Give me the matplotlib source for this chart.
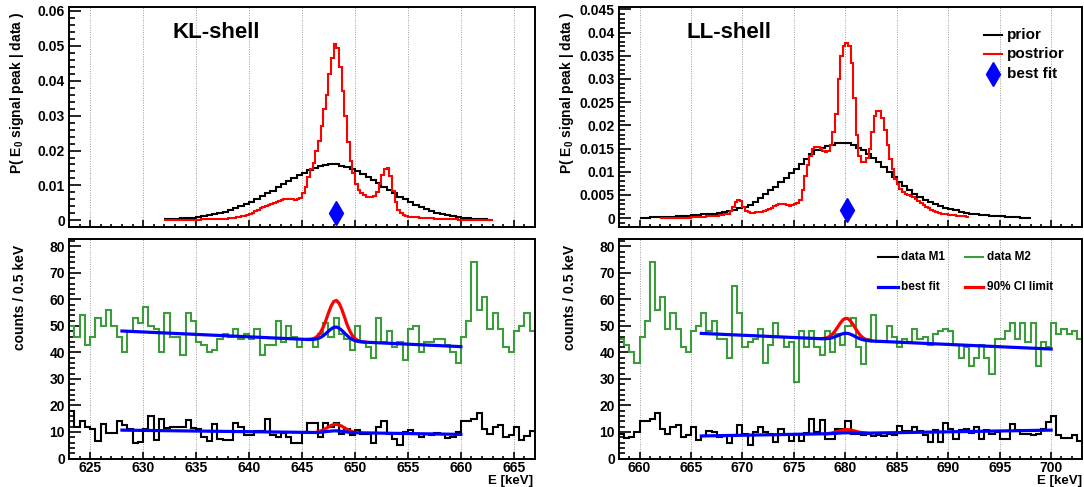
import numpy as np
import matplotlib
matplotlib.use('Agg')
import matplotlib.pyplot as plt
from matplotlib.ticker import MultipleLocator, FuncFormatter
from matplotlib.lines import Line2D

plt.rcParams['font.family'] = ['Liberation Sans', 'DejaVu Sans']
plt.rcParams['font.weight'] = 'bold'
plt.rcParams['mathtext.fontset'] = 'custom'
plt.rcParams['mathtext.rm'] = 'Liberation Sans:bold'
plt.rcParams['mathtext.it'] = 'Liberation Sans:bold'
plt.rcParams['mathtext.bf'] = 'Liberation Sans:bold'
plt.rcParams['mathtext.default'] = 'rm'

# ---------------- data ----------------
# measured spectra, 0.5 keV bins starting at 623.0 keV
data_start = 623.0
data_binw = 0.5
data_m1 = [18, 12, 14, 12, 11, 6.5, 13, 9.5, 9.5, 14,
           12.5, 11, 6, 6.3, 11, 16, 7, 15, 11.5, 12,
           12, 12, 14.5, 11.5, 11, 8, 6.7, 13, 7.5, 7,
           7, 13.5, 12, 9, 9, 10.5, 10.5, 15, 9, 8,
           9.7, 8, 6, 6, 10, 13.5, 13.5, 8, 13.5, 12,
           13.5, 9.4, 11.3, 8.8, 10.7, 9.4, 9.4, 5.7, 12, 14.2,
           9.4, 7.2, 5, 10, 10.7, 9.4, 8.2, 9.4, 8.8, 9.7,
           9.4, 7.6, 8.2, 10, 14, 14, 15, 17, 11, 9.4,
           12, 12.6, 8, 8.8, 12, 7, 8.6, 10.5, 10, 8.2,
           8.4, 5.7, 8.4, 12.6, 9.4, 5, 10, 12, 10, 9.4,
           6.3, 11.3, 9.2, 6.7, 9.2, 6.7, 9.7, 15, 10, 14.7,
           7.2, 7.2, 11, 11.3, 14.2, 9.4, 9.2, 8.8, 9.4, 8.4,
           8.8, 8.4, 9.4, 8.8, 12.2, 10.4, 10.4, 11.7, 10.4, 8.8,
           6.3, 10.7, 6.3, 13.5, 11, 7.2, 10.7, 11, 9.7, 12,
           7.2, 10.7, 9.4, 10, 7.2, 7.2, 13.2, 10.7, 9.4, 9.2,
           8.8, 9.4, 11, 13.9, 16, 8.8, 7.6, 7.9, 8.8, 6.7]
data_m2 = [50, 46, 54, 43, 46, 53, 50, 56, 50, 46,
           40, 48, 53, 51, 57, 50, 49, 40, 55, 46,
           46, 39, 55, 52, 44, 43, 40, 41, 45, 47,
           46, 49, 45, 47, 45, 49, 39, 43, 43, 52,
           44, 50, 46, 42, 45, 45, 42, 47, 51, 46,
           53, 47, 45, 41, 50, 44, 42, 38, 53, 44,
           48, 42, 44, 37, 49, 50, 40, 44, 44, 45,
           45, 43, 40, 36, 46, 52, 74, 56, 61, 49,
           55, 49, 42, 40, 48, 50, 55, 48, 52, 45,
           45, 38, 65, 55, 42, 44, 45, 49, 36, 43,
           51, 46, 42, 44, 29, 48, 42, 48, 42, 39,
           48, 40, 47, 43, 50, 53, 42, 35.5, 45, 54,
           44, 44, 50, 46, 42, 45, 44, 49, 45, 46,
           43, 47, 48, 49, 48, 43, 38, 42, 35, 38,
           43, 38, 32, 45, 45, 48, 51, 45, 51, 44,
           51, 35, 44, 42, 51, 47, 49, 47, 48, 45]

# KL-shell: prior (0.5 keV bins from 632) and posterior (0.25 keV bins from 632)
kl_prior_start = 632.0
kl_prior_binw = 0.5
kl_prior = [0.0003, 0.0004, 0.0005, 0.0006, 0.0007, 0.0008, 0.0010, 0.0012, 0.0014, 0.0017,
            0.0020, 0.0024, 0.0029, 0.0035, 0.0041, 0.0048, 0.0054, 0.0061, 0.0069, 0.0077,
            0.0085, 0.0095, 0.0104, 0.0113, 0.0122, 0.0130, 0.0137, 0.0144, 0.0150, 0.0155,
            0.0158, 0.0160, 0.0160, 0.0157, 0.0153, 0.0148, 0.0142, 0.0134, 0.0125, 0.0116,
            0.0106, 0.0096, 0.0086, 0.0077, 0.0068, 0.0060, 0.0052, 0.0045, 0.0038, 0.0032,
            0.0027, 0.0022, 0.0018, 0.0015, 0.0012, 0.0010, 0.0008, 0.0006, 0.0005, 0.0004,
            0.0003, 0.0002]
kl_post_start = 632.0
kl_post_binw = 0.25
kl_post = [0.0001, 0.0001, 0.0001, 0.0001, 0.0001, 0.0001, 0.0002, 0.0002,
           0.0002, 0.0002, 0.0002, 0.0002, 0.0002, 0.0002, 0.0003, 0.0003,
           0.0003, 0.0003, 0.0003, 0.0003, 0.0004, 0.0004, 0.0005, 0.0005,
           0.0006, 0.0007, 0.0008, 0.0009, 0.0010, 0.0012, 0.0013, 0.0015,
           0.0017, 0.0021, 0.0026, 0.0031, 0.0034, 0.0037, 0.0040, 0.0043,
           0.0046, 0.0050, 0.0053, 0.0056, 0.0059, 0.0061, 0.0062, 0.0062,
           0.0061, 0.0059, 0.0060, 0.0065, 0.0077, 0.0095, 0.0125, 0.0148,
           0.0165, 0.0198, 0.0228, 0.0270, 0.0320, 0.0360, 0.0420, 0.0465,
           0.0505, 0.0495, 0.0440, 0.0370, 0.0300, 0.0225, 0.0170, 0.0135,
           0.0105, 0.0088, 0.0078, 0.0072, 0.0068, 0.0066, 0.0066, 0.0070,
           0.0082, 0.0105, 0.0130, 0.0148, 0.0150, 0.0128, 0.0085, 0.0052,
           0.0030, 0.0020, 0.0015, 0.0012, 0.0011, 0.0010, 0.0009, 0.0009,
           0.0008, 0.0008, 0.0007, 0.0007, 0.0006, 0.0006, 0.0005, 0.0005,
           0.0004, 0.0004, 0.0004, 0.0003, 0.0003, 0.0003, 0.0003, 0.0002,
           0.0002, 0.0002, 0.0002, 0.0002, 0.0001, 0.0001, 0.0001, 0.0001,
           0.0001, 0.0001, 0.0001, 0.0001]
kl_best_E = 648.2
kl_best_y = 0.0022

# LL-shell: prior (0.5 keV bins from 660) and posterior (0.25 keV bins from 662)
ll_prior_start = 660.0
ll_prior_binw = 0.5
ll_prior = [0.0001, 0.0001, 0.0002, 0.0002, 0.0002, 0.0003, 0.0003, 0.0004, 0.0004, 0.0005,
            0.0006, 0.0007, 0.0008, 0.0009, 0.0010, 0.0012, 0.0013, 0.0015, 0.0018, 0.0021,
            0.0025, 0.0029, 0.0035, 0.0044, 0.0052, 0.0060, 0.0068, 0.0077, 0.0087, 0.0097,
            0.0107, 0.0117, 0.0128, 0.0139, 0.0147, 0.0152, 0.0155, 0.0158, 0.0161, 0.0163,
            0.0161, 0.0157, 0.0152, 0.0146, 0.0139, 0.0130, 0.0120, 0.0110, 0.0099, 0.0089,
            0.0079, 0.0069, 0.0060, 0.0052, 0.0045, 0.0039, 0.0034, 0.0030, 0.0026, 0.0023,
            0.0020, 0.0017, 0.0014, 0.0012, 0.0010, 0.0009, 0.0007, 0.0006, 0.0005, 0.0004,
            0.0004, 0.0003, 0.0002, 0.0002, 0.0001, 0.0001]
ll_post_start = 662.0
ll_post_binw = 0.25
ll_post = [0.0001, 0.0001, 0.0001, 0.0001, 0.0001, 0.0001, 0.0001, 0.0001,
           0.0001, 0.0001, 0.0001, 0.0001, 0.0002, 0.0002, 0.0002, 0.0003,
           0.0003, 0.0003, 0.0004, 0.0004, 0.0004, 0.0005, 0.0005, 0.0006,
           0.0007, 0.0008, 0.0010, 0.0016, 0.0025, 0.0035, 0.0040, 0.0036,
           0.0024, 0.0016, 0.0013, 0.0012, 0.0012, 0.0013, 0.0013, 0.0014,
           0.0016, 0.0018, 0.0020, 0.0023, 0.0026, 0.0029, 0.0031, 0.0031,
           0.0030, 0.0028, 0.0027, 0.0028, 0.0030, 0.0033, 0.0040, 0.0060,
           0.0090, 0.0115, 0.0135, 0.0148, 0.0153, 0.0153, 0.0148, 0.0144,
           0.0143, 0.0145, 0.0158, 0.0185, 0.0225, 0.0300, 0.0350, 0.0372,
           0.0378, 0.0372, 0.0335, 0.0260, 0.0180, 0.0135, 0.0122, 0.0122,
           0.0130, 0.0150, 0.0185, 0.0220, 0.0232, 0.0230, 0.0215, 0.0190,
           0.0158, 0.0128, 0.0105, 0.0085, 0.0073, 0.0062, 0.0056, 0.0052,
           0.0050, 0.0048, 0.0045, 0.0042, 0.0038, 0.0033, 0.0028, 0.0024,
           0.0021, 0.0018, 0.0015, 0.0013, 0.0011, 0.0010, 0.0009, 0.0008,
           0.0007, 0.0006, 0.0006, 0.0005, 0.0005, 0.0004, 0.0004, 0.0003]
ll_best_E = 680.15
ll_best_y = 0.0017

# fitted curves (energy, counts)
kl_fit_x = [628, 645.5, 645.75, 646.0, 646.25, 646.5, 646.75, 647.0, 647.25, 647.5, 647.75,
            648.0, 648.25, 648.5, 648.75, 649.0, 649.25, 649.5, 649.75, 650.0, 650.25,
            650.5, 650.75, 651.0, 660]
kl_m2_best = [48.1, 44.90, 44.88, 44.91, 45.01, 45.25, 45.66, 46.29, 47.12, 48.06, 48.86,
              49.46, 49.60, 49.18, 48.37, 47.40, 46.42, 45.53, 44.88, 44.47, 44.20,
              44.04, 43.97, 43.88, 42.2]
kl_lim_x = [645.5, 645.75, 646.0, 646.25, 646.5, 646.75, 647.0, 647.25, 647.5, 647.75,
            648.0, 648.25, 648.5, 648.75, 649.0, 649.25, 649.5, 649.75, 650.0, 650.25,
            650.5, 650.75, 651.0]
kl_m2_limit = [44.93, 45.00, 45.14, 45.52, 46.31, 47.59, 49.57, 52.07, 54.94, 57.48,
               59.25, 59.64, 58.59, 56.38, 53.53, 50.60, 48.22, 46.40, 45.27, 44.60,
               44.20, 44.00, 43.90]
kl_m1_fit_x = [628, 646.5, 647.0, 647.5, 648.0, 648.25, 648.5, 649.0, 649.5, 650.0, 660]
kl_m1_best = [10.7, 9.80, 10.03, 10.25, 10.43, 10.44, 10.37, 10.12, 9.86, 9.72, 9.1]
kl_m1_lim_x = [646.5, 646.75, 647.0, 647.25, 647.5, 647.75, 648.0, 648.25, 648.5, 648.75,
               649.0, 649.25, 649.5, 649.75, 650.0]
kl_m1_limit = [10.11, 10.38, 10.79, 11.32, 11.91, 12.45, 12.81, 12.89, 12.67, 12.21,
               11.61, 11.01, 10.50, 10.13, 9.89]

ll_fit_x = [666, 677.5, 677.75, 678.0, 678.25, 678.5, 678.75, 679.0, 679.25, 679.5, 679.75,
            680.0, 680.25, 680.5, 680.75, 681.0, 681.25, 681.5, 681.75, 682.0, 682.25,
            682.5, 682.75, 700]
ll_m2_best = [47.2, 45.21, 45.19, 45.19, 45.24, 45.36, 45.58, 45.91, 46.31, 46.74, 47.08,
              47.24, 47.18, 46.88, 46.43, 45.92, 45.44, 45.04, 44.76, 44.57, 44.44,
              44.36, 44.30, 41.3]
ll_lim_x = [677.75, 678.0, 678.25, 678.5, 678.75, 679.0, 679.25, 679.5, 679.75, 680.0,
            680.25, 680.5, 680.75, 681.0, 681.25, 681.5, 681.75, 682.0, 682.25, 682.5]
ll_m2_limit = [45.27, 45.37, 45.64, 46.13, 46.96, 48.13, 49.56, 51.04, 52.26, 52.89,
               52.78, 51.90, 50.53, 48.94, 47.47, 46.27, 45.44, 44.91, 44.59, 44.42]
ll_m1_fit_x = [666, 678.5, 679.0, 679.5, 680.0, 680.5, 681.0, 681.5, 682.0, 700]
ll_m1_best = [8.5, 9.35, 9.47, 9.61, 9.71, 9.70, 9.64, 9.57, 9.56, 10.7]
ll_m1_lim_x = [678.0, 678.25, 678.5, 678.75, 679.0, 679.25, 679.5, 679.75, 680.0, 680.25,
               680.5, 680.75, 681.0, 681.25, 681.5, 681.75, 682.0]
ll_m1_limit = [9.33, 9.39, 9.51, 9.69, 9.93, 10.21, 10.51, 10.75, 10.90, 10.89,
               10.76, 10.54, 10.28, 10.02, 9.83, 9.70, 9.63]

# ---------------- styling ----------------
W, H = 1084, 487
RED = '#ff0000'
BLUE = '#0000ff'
GREEN = '#3c9c3c'
GRID = '#9a9a9a'
HLW = 1.5


def edges(start, binw, vals):
    return start + binw * np.arange(len(vals) + 1)


def fx(x):
    return x / W


def fy(y):
    return 1 - y / H


fig = plt.figure(figsize=(W / 100, H / 100), dpi=100)


def make_ax(x0, x1, y0, y1):
    return fig.add_axes([fx(x0), fy(y1), fx(x1 - x0), (y1 - y0) / H])


def style(ax, xlim, ylim, ymaj, ymin_, show_xlabels):
    ax.set_xlim(*xlim)
    ax.set_ylim(*ylim)
    ax.xaxis.set_major_locator(MultipleLocator(5))
    ax.xaxis.set_minor_locator(MultipleLocator(1))
    ax.yaxis.set_major_locator(MultipleLocator(ymaj))
    ax.yaxis.set_minor_locator(MultipleLocator(ymin_))
    ax.yaxis.set_major_formatter(FuncFormatter(lambda v, p: '%g' % round(v, 6)))
    ax.tick_params(axis='both', which='both', direction='in', top=False, right=False)
    ax.tick_params(axis='y', which='major', length=8.5, width=1.2, labelsize=10, pad=3)
    ax.tick_params(axis='y', which='minor', length=4.3, width=1.2)
    ax.tick_params(axis='x', which='major', length=5, width=1.2, labelsize=10, pad=2)
    ax.tick_params(axis='x', which='minor', length=2.5, width=1.2)
    ax.tick_params(labelbottom=show_xlabels)
    ax.grid(axis='x', which='major', color=GRID, linestyle=(0, (1, 1.5)), linewidth=0.7)
    ax.set_axisbelow(True)
    for s in ax.spines.values():
        s.set_linewidth(1.4)
    for lab in ax.get_xticklabels() + ax.get_yticklabels():
        lab.set_fontweight('bold')


XL_L, XR_L = 69, 535
XL_R, XR_R = 619, 1082
YT_T, YB_T = 7, 227
YT_B, YB_B = 238.5, 458.5

ax_tl = make_ax(XL_L, XR_L, YT_T, YB_T)
ax_bl = make_ax(XL_L, XR_L, YT_B, YB_B)
ax_tr = make_ax(XL_R, XR_R, YT_T, YB_T)
ax_br = make_ax(XL_R, XR_R, YT_B, YB_B)

# ---- top-left: KL posterior ----
style(ax_tl, (623, 667), (-0.0019, 0.0611), 0.01, 0.002, False)
ax_tl.stairs(kl_prior, edges(kl_prior_start, kl_prior_binw, kl_prior), baseline=None,
             color='black', lw=HLW)
ax_tl.stairs(kl_post, edges(kl_post_start, kl_post_binw, kl_post), baseline=None,
             color=RED, lw=HLW)
ax_tl.plot([kl_best_E], [kl_best_y], marker='d', color=BLUE, markersize=12.5, ls='none')
ax_tl.text(fx(172), fy(32), 'KL-shell', transform=fig.transFigure, fontsize=16,
           fontweight='bold', ha='left', va='center')

# ---- top-right: LL posterior ----
style(ax_tr, (658, 703), (-0.0019, 0.0455), 0.005, 0.001, False)
ax_tr.stairs(ll_prior, edges(ll_prior_start, ll_prior_binw, ll_prior), baseline=None,
             color='black', lw=HLW)
ax_tr.stairs(ll_post, edges(ll_post_start, ll_post_binw, ll_post), baseline=None,
             color=RED, lw=HLW)
ax_tr.plot([ll_best_E], [ll_best_y], marker='d', color=BLUE, markersize=12.5, ls='none')
ax_tr.text(fx(686), fy(32), 'LL-shell', transform=fig.transFigure, fontsize=16,
           fontweight='bold', ha='left', va='center')

# ---- bottom panels: spectra ----
for ax, xlim in ((ax_bl, (623, 667)), (ax_br, (658, 703))):
    style(ax, xlim, (0, 83), 10, 2, True)
    ax.stairs(data_m2, edges(data_start, data_binw, data_m2), baseline=None,
              color=GREEN, lw=HLW)
    ax.stairs(data_m1, edges(data_start, data_binw, data_m1), baseline=None,
              color='black', lw=HLW)

ax_bl.plot(kl_fit_x, kl_m2_best, color=BLUE, lw=2.3, zorder=4)
ax_bl.plot(kl_lim_x, kl_m2_limit, color=RED, lw=2.3, zorder=3)
ax_bl.plot(kl_m1_fit_x, kl_m1_best, color=BLUE, lw=2.3, zorder=4)
ax_bl.plot(kl_m1_lim_x, kl_m1_limit, color=RED, lw=2.3, zorder=3)

ax_br.plot(ll_fit_x, ll_m2_best, color=BLUE, lw=2.3, zorder=4)
ax_br.plot(ll_lim_x, ll_m2_limit, color=RED, lw=2.3, zorder=3)
ax_br.plot(ll_m1_fit_x, ll_m1_best, color=BLUE, lw=2.3, zorder=4)
ax_br.plot(ll_m1_lim_x, ll_m1_limit, color=RED, lw=2.3, zorder=3)

# ---- axis titles ----
ylab_top = 'P( E$_0$ signal peak | data )'
ylab_bot = 'counts / 0.5 keV'
for xc in (17, 567):
    fig.text(fx(xc), fy(12), ylab_top, rotation=90, ha='center', va='top',
             fontsize=10, fontweight='bold')
for xc in (20, 570):
    fig.text(fx(xc), fy(245), ylab_bot, rotation=90, ha='center', va='top',
             fontsize=10, fontweight='bold')
for xr in (533, 1082):
    fig.text(fx(xr), fy(487), 'E [keV]', ha='right', va='bottom',
             fontsize=9.5, fontweight='bold')


# ---- legends ----
def leg_line(x0, x1, y, color, lw):
    fig.add_artist(Line2D([fx(x0), fx(x1)], [fy(y), fy(y)], transform=fig.transFigure,
                          color=color, lw=lw))


def leg_text(x, y, s, size):
    fig.text(fx(x), fy(y), s, ha='left', va='center', fontsize=size, fontweight='bold')


leg_line(984, 1002, 35, 'black', HLW)
leg_text(1007, 35, 'prior', 11)
leg_line(984, 1002, 54, RED, HLW)
leg_text(1007, 54, 'postrior', 11)
fig.add_artist(Line2D([fx(993)], [fy(74)], transform=fig.transFigure, marker='d',
                      color=BLUE, markersize=12.5, ls='none'))
leg_text(1007, 74, 'best fit', 11)

leg_line(878, 898, 257, 'black', HLW)
leg_text(901, 257, 'data M1', 8.5)
leg_line(965, 983, 257, GREEN, HLW)
leg_text(987, 257, 'data M2', 8.5)
leg_line(878, 898, 287, BLUE, 2.3)
leg_text(901, 287, 'best fit', 8.5)
leg_line(965, 983, 287, RED, 2.3)
leg_text(987, 287, '90% CI limit', 8.5)

fig.savefig('out.png', dpi=100)
